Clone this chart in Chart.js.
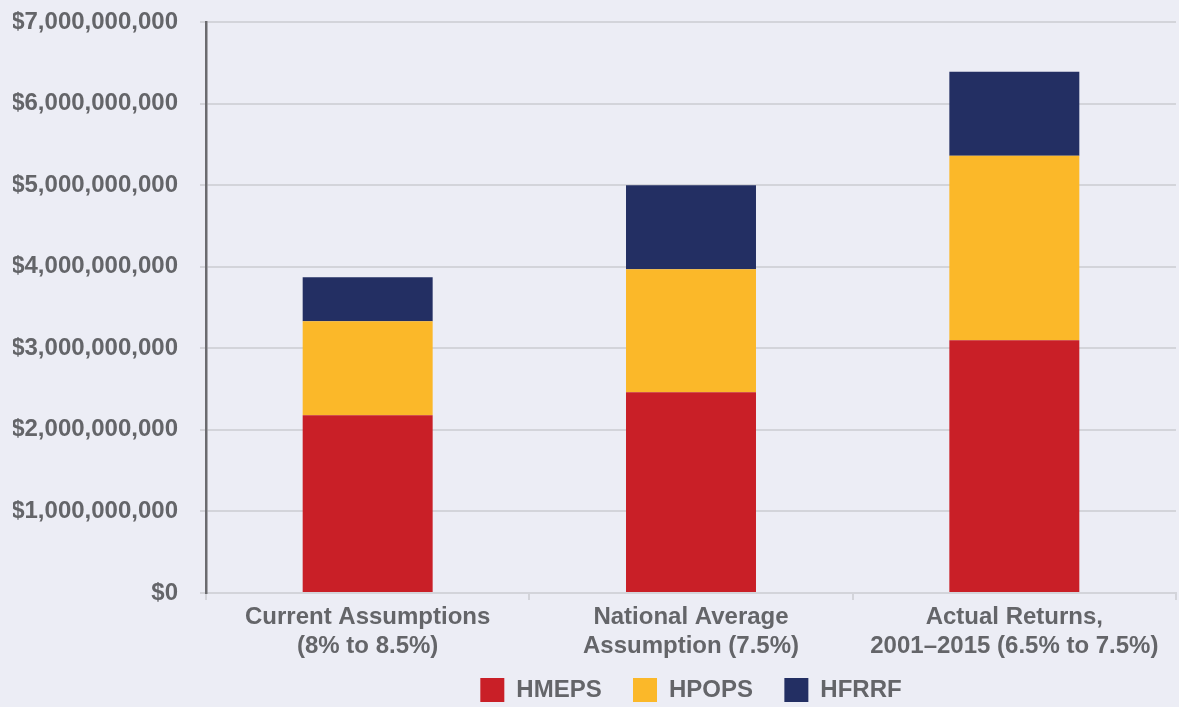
<!DOCTYPE html>
<html>
<head>
<meta charset="utf-8">
<script src="https://cdn.jsdelivr.net/npm/chart.js@4"></script>
<style>
  html, body { margin: 0; padding: 0; background: #ECEDF5; overflow: hidden; }
  #wrap { position: relative; width: 1179px; height: 707px; }
</style>
</head>
<body>
<div id="wrap"><canvas id="chart"></canvas></div>
<script>
const categories = [
    ['Current Assumptions', '(8% to 8.5%)'],
    ['National Average', 'Assumption (7.5%)'],
    ['Actual Returns,', '2001\u20132015 (6.5% to 7.5%)']
];
const hmeps = [2180000000, 2460000000, 3100000000];
const hpops = [1150000000, 1510000000, 2260000000];
const hfrrf = [540000000, 1030000000, 1030000000];
const yTicks = [0, 1000000000, 2000000000, 3000000000, 4000000000, 5000000000, 6000000000, 7000000000];

const textColor = '#646569';
const gridColor = '#D3D4DA';
const fontFamily = "Arial, 'Liberation Sans', Helvetica, sans-serif";

const ctx = document.getElementById('chart').getContext('2d');
new Chart(ctx, {
    type: 'bar',
    data: {
        labels: categories,
        datasets: [
            { label: 'HMEPS', data: hmeps, backgroundColor: '#C91F27' },
            { label: 'HPOPS', data: hpops, backgroundColor: '#FBB829' },
            { label: 'HFRRF', data: hfrrf, backgroundColor: '#232F63' }
        ]
    },
    options: {
        responsive: true,
        maintainAspectRatio: false,
        animation: false,
        layout: { padding: { left: 13, right: 3, top: 22, bottom: -5 } },
        datasets: {
            bar: { barPercentage: 0.402, categoryPercentage: 1 }
        },
        plugins: {
            tooltip: { enabled: false },
            legend: {
                position: 'bottom',
                fullSize: false,
                labels: {
                    boxWidth: 24,
                    boxHeight: 24,
                    padding: 18,
                    color: textColor,
                    font: { family: fontFamily, size: 24, weight: 'bold' },
                    // extra space after the first two entries
                    generateLabels: (chart) => {
                        const items = Chart.defaults.plugins.legend.labels.generateLabels(chart);
                        items.forEach((it, i) => {
                            if (i < items.length - 1) it.text = it.text + '  ';
                        });
                        return items;
                    }
                }
            }
        },
        scales: {
            x: {
                stacked: true,
                afterFit: (scale) => { scale.height = 67; },
                grid: { drawOnChartArea: false, color: gridColor, tickLength: 7, lineWidth: 2 },
                border: { color: gridColor, width: 2 },
                ticks: {
                    color: textColor,
                    padding: 3,
                    font: { family: fontFamily, size: 24, weight: 'bold', lineHeight: 1.2 }
                }
            },
            y: {
                stacked: true,
                min: 0,
                max: 7000000000,
                afterBuildTicks: (scale) => {
                    scale.ticks = yTicks.map(v => ({ value: v }));
                },
                afterFit: (scale) => {
                    scale.width = 193;
                    scale.paddingTop = 0;
                    scale.paddingBottom = 0;
                },
                grid: { color: gridColor, lineWidth: 2, tickLength: 6 },
                border: { color: '#6B6B6F', width: 2.5 },
                ticks: {
                    color: textColor,
                    padding: 22,
                    font: { family: fontFamily, size: 24, weight: 'bold' },
                    callback: function(value) {
                        return '$' + value.toLocaleString('en-US');
                    }
                }
            }
        }
    }
});
</script>
</body>
</html>
